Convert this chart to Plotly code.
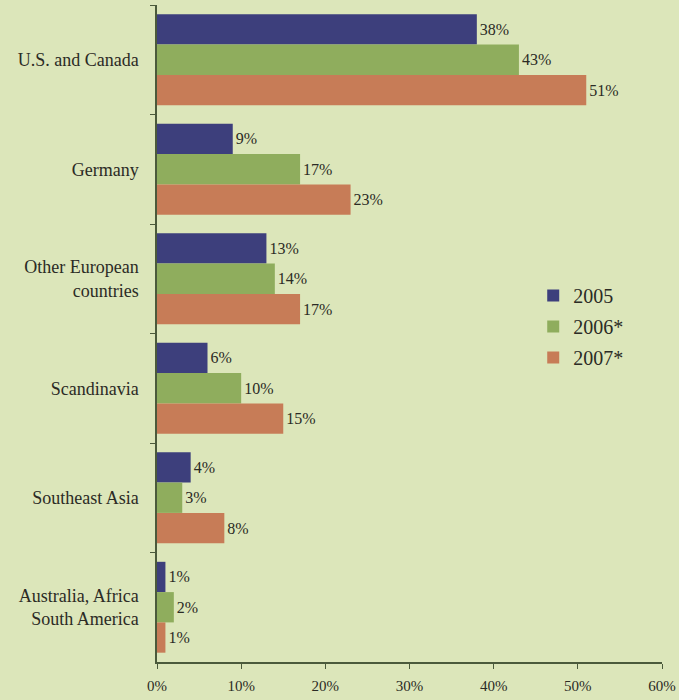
import plotly.graph_objects as go

categories = ["U.S. and Canada", "Germany", "Other European<br>countries", "Scandinavia",
              "Southeast Asia", "Australia, Africa<br>South America"]
series_names = ["2005", "2006*", "2007*"]
v2005 = [38, 9, 13, 6, 4, 1]
v2006 = [43, 17, 14, 10, 3, 2]
v2007 = [51, 23, 17, 15, 8, 1]
x_ticks = [0, 10, 20, 30, 40, 50, 60]
x_tick_labels = ["0%", "10%", "20%", "30%", "40%", "50%", "60%"]

colors = ["#3d3f7c", "#8fad5d", "#c77c57"]
bg = "#dce6ba"
font_family = "Liberation Serif, Times New Roman, serif"
text_color = "#2b2b25"

fig = go.Figure()
for name, vals, col in zip(series_names, [v2005, v2006, v2007], colors):
    fig.add_trace(go.Bar(
        y=categories, x=vals, name=name, orientation="h",
        legendgroup=name,
        marker=dict(color=col, line=dict(width=0)),
        text=[f"{v}%" for v in vals], textposition="outside",
        textfont=dict(family=font_family, size=16, color=text_color),
        cliponaxis=False,
    ))

fig.update_layout(
    width=679, height=700,
    barmode="group", bargap=0.17, bargroupgap=0,
    paper_bgcolor=bg, plot_bgcolor=bg,
    margin=dict(l=157, r=17, t=5, b=38, autoexpand=False),
    font=dict(family=font_family, size=14, color=text_color),
    showlegend=True,
    legend=dict(x=0.745, y=0.5875, xanchor="left", yanchor="top",
                bgcolor="rgba(0,0,0,0)", font=dict(size=20, family=font_family, color=text_color),
                traceorder="grouped", tracegroupgap=2, itemwidth=30),
)
fig.update_xaxes(range=[0, 60], tickvals=x_ticks, ticktext=x_tick_labels, automargin=False,
                 showgrid=False, zeroline=False, showline=True, linecolor="#4b5a3b", linewidth=1.5,
                 ticks="outside", ticklen=5, tickcolor="#4b5a3b", ticklabelstandoff=4,
                 tickfont=dict(family=font_family, size=15, color=text_color))
fig.update_yaxes(autorange="reversed", tickson="boundaries", showgrid=False, zeroline=False,
                 automargin=False,
                 showline=True, linecolor="#4b5a3b", linewidth=1.5,
                 ticks="outside", ticklen=5, tickcolor="#4b5a3b", ticklabelstandoff=13,
                 tickfont=dict(family=font_family, size=18, color=text_color))

fig.write_html(
    "out.html",
    config={"displayModeBar": False},
    post_script=f"document.body.style.margin='0';document.body.style.background='{bg}';",
)
